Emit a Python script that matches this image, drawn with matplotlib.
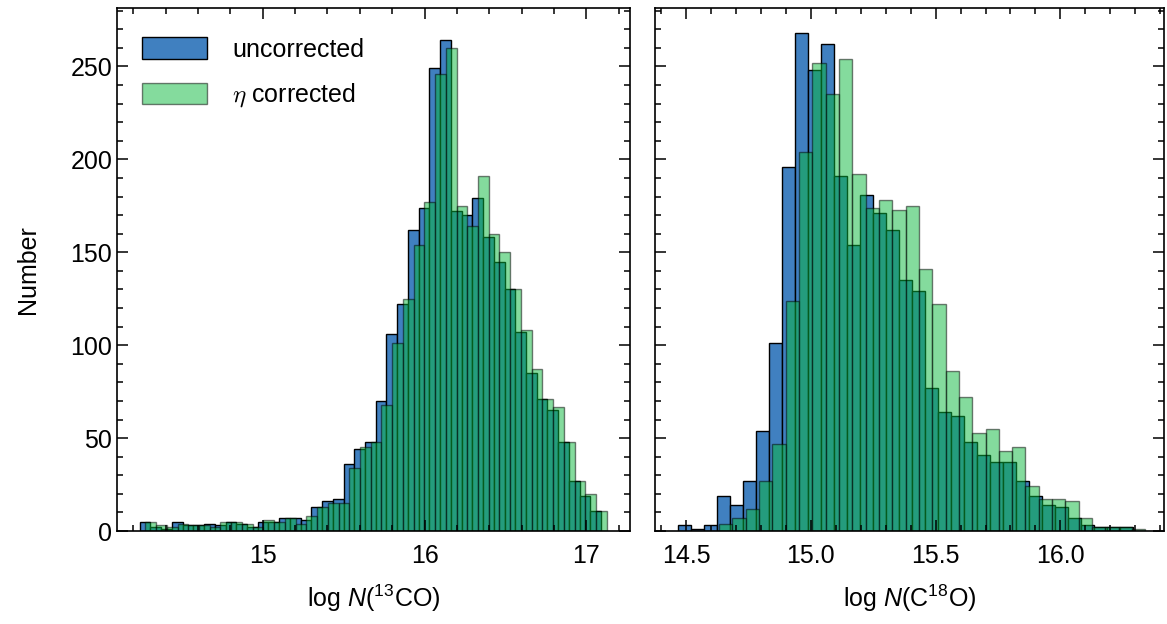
import numpy as np
import matplotlib
matplotlib.use("Agg")
import matplotlib.pyplot as plt
from matplotlib.ticker import MultipleLocator, FormatStrFormatter

# --- left panel: log N(13CO), counts per bin ---
co13_start_uncorr = 14.240
co13_start_corr = 14.275
co13_binw = 0.0663
co13_uncorr = [5, 2, 1, 5, 3, 3, 4, 3, 5, 4, 2, 5, 5, 7, 7, 6, 13, 16, 17, 36,
               44, 48, 70, 106, 122, 162, 174, 249, 264, 172, 170, 179, 158, 145,
               130, 107, 85, 71, 65, 48, 27, 19, 11]
co13_corr = [5, 3, 2, 4, 3, 3, 2, 5, 5, 4, 2, 6, 5, 7, 4, 8, 13, 15, 15, 34,
             45, 48, 68, 101, 125, 154, 177, 246, 260, 175, 164, 191, 160, 150,
             130, 108, 87, 71, 67, 48, 27, 20, 11]

# --- right panel: log N(C18O) ---
c18o_start_uncorr = 14.468
c18o_binw_uncorr = 0.0521
c18o_start_corr = 14.632
c18o_binw_corr = 0.0534
c18o_uncorr = [3, 1, 3, 19, 14, 27, 54, 101, 196, 268, 248, 262, 191, 154, 181,
               171, 162, 135, 129, 77, 64, 62, 48, 41, 37, 37, 27, 19, 14, 13,
               7, 3, 2, 2, 2]
c18o_corr = [4, 7, 12, 27, 47, 124, 204, 252, 235, 254, 192, 174, 178, 173, 175,
             141, 122, 86, 72, 53, 55, 43, 45, 24, 17, 17, 16, 7, 2, 2, 2, 1]

labels = ["uncorrected", r"$\eta$ corrected"]
blue = "#4080c0"
green = "#0ab93c"

plt.rcParams["font.family"] = ["Liberation Sans", "DejaVu Sans"]
plt.rcParams["font.size"] = 18
plt.rcParams["mathtext.fontset"] = "custom"
plt.rcParams["mathtext.rm"] = "Liberation Sans"
plt.rcParams["mathtext.it"] = "Liberation Sans:italic"
plt.rcParams["axes.linewidth"] = 1.2


def edges(start, width, n):
    return start + width * np.arange(n + 1)


def style(ax):
    ax.tick_params(which="both", direction="in", top=True, right=True,
                   width=1.1, labelsize=18)
    ax.tick_params(which="major", length=8)
    ax.tick_params(which="minor", length=4.5)
    ax.tick_params(axis="x", which="major", pad=9)
    ax.yaxis.set_major_locator(MultipleLocator(50))
    ax.yaxis.set_minor_locator(MultipleLocator(10))


fig = plt.figure(figsize=(11.67, 6.24), dpi=100)
ax1 = fig.add_axes([0.1003, 0.149, 0.4396, 0.838])
ax2 = fig.add_axes([0.5613, 0.149, 0.436, 0.838], sharey=ax1)

e1 = edges(co13_start_uncorr, co13_binw, len(co13_uncorr))
e2 = edges(co13_start_corr, co13_binw, len(co13_corr))
ax1.hist(e1[:-1], bins=e1, weights=co13_uncorr, color=blue,
         edgecolor="black", linewidth=1.0, label=labels[0])
ax1.hist(e2[:-1], bins=e2, weights=co13_corr, color=green, alpha=0.5,
         edgecolor="black", linewidth=1.0, label=labels[1])

e3 = edges(c18o_start_uncorr, c18o_binw_uncorr, len(c18o_uncorr))
e4 = edges(c18o_start_corr, c18o_binw_corr, len(c18o_corr))
ax2.hist(e3[:-1], bins=e3, weights=c18o_uncorr, color=blue,
         edgecolor="black", linewidth=1.0)
ax2.hist(e4[:-1], bins=e4, weights=c18o_corr, color=green, alpha=0.5,
         edgecolor="black", linewidth=1.0)

style(ax1)
style(ax2)
ax1.xaxis.set_major_locator(MultipleLocator(1))
ax1.xaxis.set_minor_locator(MultipleLocator(0.2))
ax2.xaxis.set_major_locator(MultipleLocator(0.5))
ax2.xaxis.set_minor_locator(MultipleLocator(0.1))
ax2.xaxis.set_major_formatter(FormatStrFormatter("%.1f"))
ax2.tick_params(labelleft=False)

ax1.set_xlim(14.10, 17.27)
ax2.set_xlim(14.375, 16.415)
ax1.set_ylim(0, 281.4)

ax1.set_xlabel(r"log $N$($^{13}$CO)", labelpad=11)
ax2.set_xlabel(r"log $N$(C$^{18}$O)", labelpad=11)
ax1.set_ylabel("Number", labelpad=22)

leg = ax1.legend(loc="upper left", bbox_to_anchor=(0.0, 0.992), frameon=False,
                 fontsize=18, handlelength=2.6, handleheight=0.95,
                 handletextpad=1.0, labelspacing=0.8, borderaxespad=0.6)
leg.get_texts()[1].set_math_fontfamily("cm")

fig.savefig("out.png", dpi=100)
